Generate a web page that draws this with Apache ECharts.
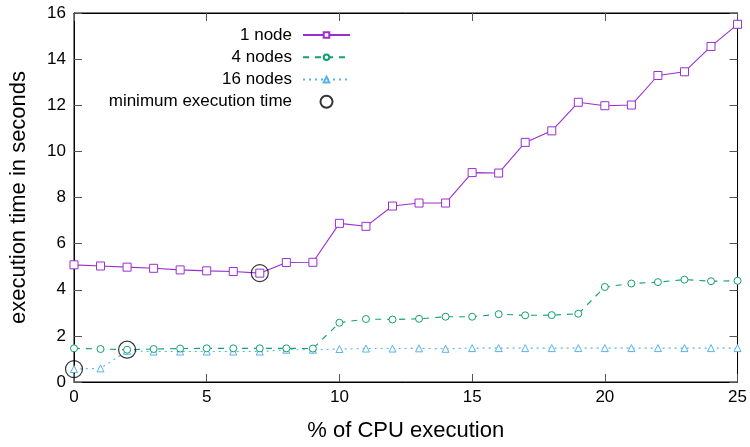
<!DOCTYPE html>
<html>
<head>
<meta charset="utf-8">
<script src="https://cdn.jsdelivr.net/npm/echarts@6/dist/echarts.min.js"></script>
<style>html,body{margin:0;padding:0;background:#fff}#c{width:750px;height:447px}</style>
</head>
<body>
<div id="c"></div>
<script>
const cpuPercent = [0,1,2,3,4,5,6,7,8,9,10,11,12,13,14,15,16,17,18,19,20,21,22,23,24,25];
const oneNode = [5.08,5.03,4.98,4.93,4.86,4.82,4.79,4.72,5.18,5.19,6.88,6.75,7.63,7.76,7.76,9.08,9.06,10.39,10.89,12.13,11.98,12.01,13.29,13.45,14.55,15.51];
const fourNodes = [1.46,1.43,1.40,1.43,1.45,1.46,1.46,1.46,1.46,1.45,2.57,2.73,2.71,2.74,2.83,2.83,2.94,2.89,2.90,2.96,4.12,4.27,4.33,4.44,4.37,4.39];
const sixteenNodes = [0.56,0.59,1.35,1.32,1.32,1.32,1.32,1.32,1.40,1.40,1.43,1.45,1.45,1.46,1.44,1.47,1.47,1.47,1.47,1.47,1.47,1.47,1.47,1.47,1.47,1.47];
const minimumX = [7,2,0];
const minimumY = [4.72,1.40,0.56];
const seriesNames = ['1 node','4 nodes','16 nodes','minimum execution time'];

const pairs = (ys) => cpuPercent.map((x,i)=>[x, ys[i]]);
const font = 'Liberation Sans, Arial, Helvetica, sans-serif';

const chart = echarts.init(document.getElementById('c'), null, {renderer:'canvas'});
const tickStyle = {inside:true, length:8, lineStyle:{color:'#555', width:1}};
const legendText = {fontFamily:font, fontSize:17, color:'#000', width:190, align:'right', lineHeight:18, padding:[0,6,0,0]};
chart.setOption({
  animation:false,
  backgroundColor:'#fff',
  grid:{left:71, right:11, top:13, bottom:64, containLabel:false, show:true, borderColor:'#000', borderWidth:1, backgroundColor:'transparent'},
  legend:[{
    orient:'vertical', left:102, top:26, padding:0, align:'right',
    itemWidth:47, itemHeight:7, itemGap:4.3,
    data:seriesNames.slice(0,3),
    textStyle:legendText
  },{
    orient:'vertical', left:102, top:92.7, padding:0, align:'right',
    itemWidth:47, itemHeight:12, itemGap:4.3,
    data:seriesNames.slice(3),
    textStyle:legendText
  }],
  xAxis:[{
    type:'value', min:0, max:25, interval:5,
    name:'% of CPU execution', nameLocation:'middle', nameGap:38,
    nameTextStyle:{fontFamily:font, fontSize:22, color:'#000'},
    axisLine:{onZero:false, lineStyle:{color:'#000', width:1}},
    axisTick:tickStyle,
    axisLabel:{fontFamily:font, fontSize:17, color:'#000', margin:7},
    splitLine:{show:false}
  },{
    type:'value', min:0, max:25, interval:5, position:'top',
    axisLine:{show:true, onZero:false, lineStyle:{color:'#000', width:1}},
    axisTick:tickStyle, axisLabel:{show:false}, splitLine:{show:false}
  }],
  yAxis:[{
    type:'value', min:0, max:16, interval:2,
    name:'execution time in seconds', nameLocation:'middle', nameGap:44,
    nameTextStyle:{fontFamily:font, fontSize:22, color:'#000'},
    axisLine:{show:true, onZero:false, lineStyle:{color:'#000', width:1}},
    axisTick:tickStyle,
    axisLabel:{fontFamily:font, fontSize:17, color:'#000', margin:8},
    splitLine:{show:false}
  },{
    type:'value', min:0, max:16, interval:2, position:'right',
    axisLine:{show:true, onZero:false, lineStyle:{color:'#000', width:1}},
    axisTick:tickStyle, axisLabel:{show:false}, splitLine:{show:false}
  }],
  series:[
    {name:seriesNames[0], type:'line', data:pairs(oneNode), symbol:'rect', symbolSize:8,
     color:'#9400D3',
     itemStyle:{color:'#fff', borderColor:'#9a2fcf', borderWidth:1},
     lineStyle:{color:'#9a2fcf', width:1.1}, showAllSymbol:true, z:3},
    {name:seriesNames[1], type:'line', data:pairs(fourNodes), symbol:'circle', symbolSize:7,
     color:'#009E73',
     itemStyle:{color:'#fff', borderColor:'#11a070', borderWidth:1},
     lineStyle:{color:'#11a070', width:1.1, type:[6,6]}, showAllSymbol:true, z:2},
    {name:seriesNames[2], type:'line', data:pairs(sixteenNodes), symbol:'triangle', symbolSize:7,
     color:'#56B4E9',
     itemStyle:{color:'#fff', borderColor:'#56B4E9', borderWidth:1},
     lineStyle:{color:'#56B4E9', width:1.1, type:[2,4]}, showAllSymbol:true, z:1},
    {name:seriesNames[3], type:'scatter', data:minimumX.map((x,i)=>[x, minimumY[i]]),
     symbol:'circle', symbolSize:17,
     itemStyle:{color:'rgba(0,0,0,0)', borderColor:'#000', borderWidth:1.2}, z:4}
  ]
});
</script>
</body>
</html>
